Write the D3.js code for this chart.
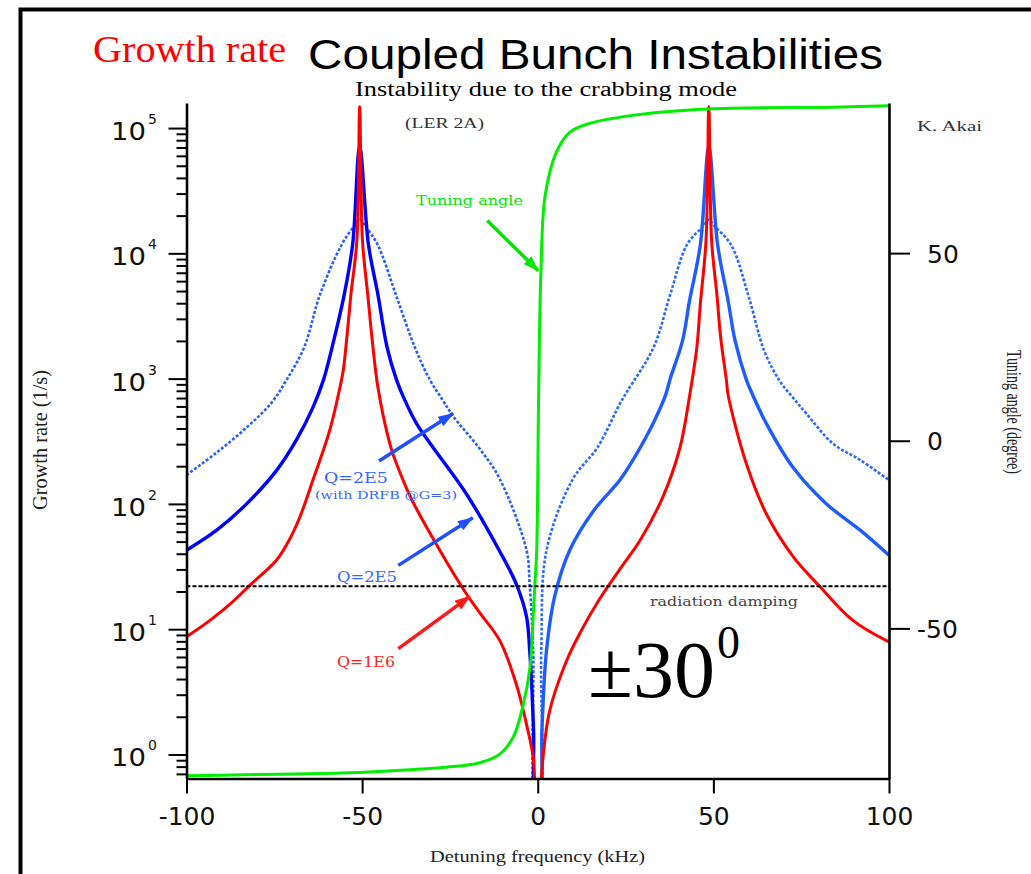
<!DOCTYPE html>
<html><head><meta charset="utf-8">
<script src="https://cdn.jsdelivr.net/npm/d3@7"></script>
<style>body{margin:0;background:#fff}svg{display:block}</style>
</head><body>
<svg id="c" width="1031" height="874"></svg>
<script>
// ---------------- data ----------------
const freqTicks = [-100, -50, 0, 50, 100];            // kHz
const rateTicks = [1, 10, 100, 1000, 10000, 100000];  // 1/s
const angleTicks = [-50, 0, 50];                     // degree
const rateDomain = [0.643, 158500];
const angleDomain = [-90, 90];
const dampingRate = 22;

// growth rate (1/s) vs detuning (kHz), Q=1E6
const q1e6 = [[-100,8.7],[-93.4,11.7],[-86.8,16.6],[-82,22.4],[-74.4,35.5],[-70.6,52.5],[-67.7,79],[-64,155],[-59.2,389],[-56.4,830],[-55.4,1150],[-54.3,2200],[-53.2,4680],[-51.5,12600],[-50.7,148000],[-49.9,12600],[-48.4,4680],[-47.1,2000],[-45.5,851],[-42.1,302],[-40.2,209],[-36,110],[-27.9,42.7],[-20.3,19.1],[-16.5,13.5],[-10.8,8.1],[-6.1,3.63],[-3.2,1.74],[-1.3,0.95],[-0.6,0.4],[0,0.3],[0.6,0.4],[1.5,0.95],[3.4,2.24],[8.2,5.6],[12,9.3],[17.6,17.4],[23.4,30.2],[29.1,51],[35.7,115],[40.5,282],[43.1,692],[43.8,912],[45.3,1780],[46.3,3980],[47.9,12600],[48.7,148000],[49.5,12600],[51,4680],[52.1,2100],[53.7,977],[54.2,741],[59.4,209],[65.1,83],[72.7,38],[80.3,21.9],[89.8,11.7],[100,7.9]];
// Q=2E5
const q2e5 = [[-100,42.7],[-91.4,61.7],[-82.9,100],[-74.3,186],[-68.7,324],[-64,589],[-61,977],[-58.3,1900],[-55.1,4680],[-52.7,11750],[-50.7,70800],[-48.2,11750],[-45.5,4680],[-42.9,1780],[-40.2,977],[-38.2,708],[-34.5,437],[-29.8,282],[-20.3,120],[-10.8,41.7],[-6.1,22.9],[-3.2,12.6],[-2.3,6.8],[-1.2,1.6],[-0.5,0.3],[0.5,0.3],[1.2,1.6],[2.5,6.8],[4.8,18.2],[9.1,42.7],[16,89],[23.4,155],[27.1,224],[32.8,437],[36.4,741],[37.6,977],[41.2,2000],[43.2,4170],[46.3,11750],[48.7,70800],[51.2,11750],[54.2,4170],[56.2,2000],[59.4,977],[61.2,741],[65.1,437],[72.7,195],[82.2,100],[91.8,61.7],[100,38.9]];
// Q=2E5 with DRFB @G=3
const q2e5fb = [[-100,170],[-91.4,257],[-82.9,407],[-76,631],[-71.5,977],[-66.5,1780],[-62,4680],[-55.8,11750],[-52.2,16600],[-50.7,18600],[-49.2,16600],[-45.6,11750],[-40.4,4680],[-35,1780],[-30.7,977],[-27.1,676],[-24.1,501],[-16.5,275],[-10.8,158],[-3.2,42.7],[-2.3,22.9],[-1.3,6.8],[-0.5,0.4],[0.5,0.4],[1,6.8],[2.5,42.7],[10,158],[17,282],[23.4,631],[25.5,794],[33,1780],[37.7,4680],[42.5,11750],[47.2,16600],[48.7,18600],[50.2,16600],[55,11750],[59.9,4680],[64.5,1660],[68.9,955],[72.6,708],[76.5,525],[84.1,302],[91.8,224],[100,155]];
// tuning angle (degree) vs detuning (kHz)
const tuning = [[-100,-89.3],[-84,-89],[-61,-88.7],[-48,-88.3],[-39,-87.8],[-33.6,-87.5],[-26,-87],[-16.5,-85.8],[-10.8,-83.5],[-7,-79],[-4.3,-71],[-2.2,-60.4],[-1.3,-47],[-0.8,-38],[-0.3,-29.3],[0.25,12],[0.9,45],[2.1,65.3],[5.3,76.9],[9.1,82.2],[14.2,84.4],[26.9,86.7],[48.7,88.4],[84,88.9],[100,89.3]];

// annotation arrows in data units: [f0, v0, f1, v1]
const arrowFB = [-45.2, 220, -24.1, 527];
const arrowQ2 = [-39.7, 32.3, -18.5, 77.6];
const arrowQ1 = [-39.7, 7.0, -19.3, 18.3];
const arrowTune = [-14.4, 58.7, 0.14, 45.3];   // angle units

// ---------------- drawing ----------------
const svg = d3.select("#c");
const P = {l:186.5, r:889, t:103, b:778.5};
const x = d3.scaleLinear().domain([-100,100]).range([P.l,P.r]);
const y = d3.scaleLog().domain(rateDomain).range([P.b,P.t]);
const yA = d3.scaleLinear().domain(angleDomain).range([P.b,P.t]);

// outer frame
svg.append("rect").attr("x",20.5).attr("y",9.5).attr("width",1100).attr("height",1000)
  .attr("fill","none").attr("stroke","#000").attr("stroke-width",4);

const defs = svg.append("defs");
defs.append("clipPath").attr("id","plotclip").append("rect")
  .attr("x",P.l).attr("y",P.t).attr("width",P.r-P.l).attr("height",P.b-P.t);
function marker(id,color){
  defs.append("marker").attr("id",id).attr("markerUnits","userSpaceOnUse")
    .attr("markerWidth",16).attr("markerHeight",11).attr("refX",15).attr("refY",5.5)
    .attr("orient","auto").append("path").attr("d","M0,0L16,5.5L0,11Z").attr("fill",color);
}
marker("mb","#1f4fff"); marker("mr","#ff1a1a"); marker("mg","#00e600");

// titles
svg.append("text").attr("x",93).attr("y",62).attr("font-family","Liberation Serif")
  .attr("font-size",38).attr("fill","#ff0000").attr("textLength",193).attr("lengthAdjust","spacingAndGlyphs").text("Growth rate");
svg.append("text").attr("x",308).attr("y",69).attr("font-family","Liberation Sans")
  .attr("font-size",42).attr("fill","#000").attr("textLength",575).attr("lengthAdjust","spacingAndGlyphs").text("Coupled Bunch Instabilities");
svg.append("text").attr("x",355).attr("y",96).attr("font-family","Liberation Serif")
  .attr("font-size",20.5).attr("fill","#000").attr("textLength",382).attr("lengthAdjust","spacingAndGlyphs").text("Instability due to the crabbing mode");

// curves
const g = svg.append("g").attr("clip-path","url(#plotclip)");
const crv = d3.curveCatmullRom.alpha(0.5);
const lineR = d3.line().x(d=>x(d[0])).y(d=>y(d[1])).curve(crv);
const lineA = d3.line().x(d=>x(d[0])).y(d=>yA(d[1])).curve(crv);

g.append("path").datum(q2e5fb.filter(d=>d[0]<=0.5)).attr("d",lineR).attr("fill","none")
  .attr("stroke","#2a5fff").attr("stroke-width",2.6).attr("stroke-dasharray","3,1.8");
g.append("path").datum(q2e5fb.filter(d=>d[0]>=-0.5)).attr("d",lineR).attr("fill","none")
  .attr("stroke","#2a6aff").attr("stroke-width",2.6).attr("stroke-dasharray","3,1.8");
g.append("path").datum(q2e5.filter(d=>d[0]<=0.5)).attr("d",lineR).attr("fill","none")
  .attr("stroke","#0000ff").attr("stroke-width",3.4);
g.append("path").datum(q2e5.filter(d=>d[0]>=-0.5)).attr("d",lineR).attr("fill","none")
  .attr("stroke","#1f5cff").attr("stroke-width",3.4);
g.append("path").datum(q1e6).attr("d",lineR).attr("fill","none")
  .attr("stroke","#ff0000").attr("stroke-width",3);
g.append("path").datum(tuning).attr("d",lineA).attr("fill","none")
  .attr("stroke","#00ee00").attr("stroke-width",3);

// radiation damping line
svg.append("line").attr("x1",x(-100)).attr("x2",x(100)).attr("y1",y(dampingRate)).attr("y2",y(dampingRate))
  .attr("stroke","#000").attr("stroke-width",2).attr("stroke-dasharray","4,2");

// axes
const axStyle = sel => { sel.selectAll("path,line").attr("stroke","#000"); sel.select(".domain").attr("stroke-width",2.6); sel.selectAll(".tick line").attr("stroke-width",2); };

const ax = svg.append("g").attr("transform",`translate(0,${P.b})`)
  .call(d3.axisBottom(x).tickValues(freqTicks).tickSize(15).tickSizeOuter(0).tickFormat(d=>String(d)));
ax.call(axStyle);
ax.selectAll("text").attr("font-family","DejaVu Sans").attr("font-size",25).attr("fill","#111")
  .attr("y",46.5).attr("dy",0);

const minors = [];
[0.1,1,10,100,1000,10000,100000].forEach(dec=>{ for(let m=2;m<=9;m++){ const v=m*dec; if(v>=rateDomain[0]&&v<=rateDomain[1]) minors.push(v);} });
const ayMin = svg.append("g").attr("transform",`translate(${P.l},0)`)
  .call(d3.axisLeft(y).tickValues(minors).tickSize(10).tickFormat(""));
ayMin.select(".domain").remove();
ayMin.selectAll("line").attr("stroke","#000").attr("stroke-width",2);
const ay = svg.append("g").attr("transform",`translate(${P.l},0)`)
  .call(d3.axisLeft(y).tickValues(rateTicks).tickSize(18).tickSizeOuter(0).tickFormat(""));
ay.call(axStyle);
const lab = svg.append("g");
rateTicks.forEach(t=>{
  const yy = y(t);
  lab.append("text").attr("x",146).attr("y",yy+12).attr("text-anchor","end")
    .attr("font-family","DejaVu Sans").attr("font-size",24).attr("fill","#111")
    .attr("textLength",35).attr("lengthAdjust","spacingAndGlyphs").text("10");
  lab.append("text").attr("x",148).attr("y",yy-4).attr("text-anchor","start")
    .attr("font-family","DejaVu Sans").attr("font-size",14).attr("fill","#111").text(String(Math.round(Math.log10(t))));
});

const ar = svg.append("g").attr("transform",`translate(${P.r},0)`)
  .call(d3.axisRight(yA).tickValues(angleTicks).tickSize(21).tickSizeOuter(0).tickFormat(d=>String(d)));
ar.call(axStyle);
ar.selectAll("text").attr("font-family","DejaVu Sans").attr("font-size",25).attr("fill","#111")
  .attr("text-anchor","start").attr("x",d=>d<0?28:38).attr("dy","0.36em");

// axis titles
svg.append("text").attr("x",537.5).attr("y",862).attr("text-anchor","middle")
  .attr("font-family","Liberation Serif").attr("font-size",16).attr("fill","#222")
  .attr("textLength",215).attr("lengthAdjust","spacingAndGlyphs").text("Detuning frequency (kHz)");
svg.append("text").attr("transform","translate(47,440) rotate(-90)").attr("text-anchor","middle")
  .attr("font-family","Liberation Serif").attr("font-size",20).attr("fill","#222")
  .attr("textLength",140).attr("lengthAdjust","spacingAndGlyphs").text("Growth rate (1/s)");
svg.append("text").attr("transform","translate(1007,412) rotate(90)").attr("text-anchor","middle")
  .attr("font-family","Liberation Serif").attr("font-size",20).attr("fill","#222")
  .attr("textLength",124).attr("lengthAdjust","spacingAndGlyphs").text("Tuning angle (degree)");

// annotations
const note = (tx,ty,s,size,color,fam,len)=>{ const t=svg.append("text").attr("x",tx).attr("y",ty)
  .attr("font-family",fam).attr("font-size",size).attr("fill",color).text(s);
  if(len) t.attr("textLength",len).attr("lengthAdjust","spacingAndGlyphs"); return t; };
note(405,128,"(LER 2A)",14,"#333","Liberation Serif",79);
note(917,131,"K. Akai",14,"#333","Liberation Serif",65);
note(416,205,"Tuning angle",13,"#00e600","DejaVu Serif",107);
note(324,483,"Q=2E5",14,"#3366ff","DejaVu Serif",64);
note(315,499,"(with DRFB @G=3)",10.5,"#3366ff","DejaVu Serif",142);
note(337,582,"Q=2E5",14,"#3366ff","DejaVu Serif",60);
note(337,667,"Q=1E6",14,"#ff2222","DejaVu Serif",58);
note(650,606,"radiation damping",13,"#444","DejaVu Serif",148);
note(588,697,"±30",80,"#000","Liberation Serif",127);
note(717,658,"0",46,"#000","Liberation Serif");

const arrow = (a,sy,color,mk)=> svg.append("line")
  .attr("x1",x(a[0])).attr("y1",sy(a[1])).attr("x2",x(a[2])).attr("y2",sy(a[3]))
  .attr("stroke",color).attr("stroke-width",3.5).attr("marker-end",`url(#${mk})`);
arrow(arrowFB,y,"#1f4fff","mb");
arrow(arrowQ2,y,"#1f4fff","mb");
arrow(arrowQ1,y,"#ff1a1a","mr");
arrow(arrowTune,yA,"#00e600","mg");
</script>
</body></html>
